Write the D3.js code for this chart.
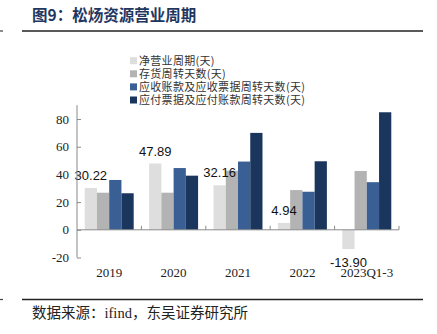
<!DOCTYPE html>
<html>
<head>
<meta charset="utf-8">
<script src="https://cdn.jsdelivr.net/npm/d3@7"></script>
<style>
  body { margin: 0; background: #fff; }
  svg { display: block; }
</style>
</head>
<body>
<div id="chart"></div>
<script>
const categories = ["2019", "2020", "2021", "2022", "2023Q1-3"];
const seriesNames = [
  "净营业周期(天)",
  "存货周转天数(天)",
  "应收账款及应收票据周转天数(天)",
  "应付票据及应付账款周转天数(天)",
];
const netCycle = [30.22, 47.89, 32.16, 4.94, -13.9];
const inventoryDays = [26.8, 26.8, 42.7, 28.7, 42.5];
const receivableDays = [36.0, 44.6, 49.3, 27.5, 34.4];
const payableDays = [26.4, 39.1, 70.0, 49.5, 84.9];
const yTicks = [-20, 0, 20, 40, 60, 80];
const colors = ["#dedede", "#b3b3b3", "#3a5f94", "#1b365d"];

const size = { width: 437, height: 334 };
const cjk = "'Noto Sans CJK SC', sans-serif";
const serif = "'Liberation Serif', 'Noto Sans CJK SC', serif";
const sans = "'Liberation Sans', Arial, sans-serif";

const series = [netCycle, inventoryDays, receivableDays, payableDays];
const rows = categories.map((c, i) => ({
  cat: c,
  values: series.map((s, j) => ({ key: j, value: s[i] })),
}));

const svg = d3
  .select("#chart")
  .append("svg")
  .attr("width", size.width)
  .attr("height", size.height);

// title + rules
svg
  .append("text")
  .attr("x", 32)
  .attr("y", 21)
  .style("font-family", cjk)
  .style("font-weight", "bold")
  .style("font-size", "15.5px")
  .attr("fill", "#1f3760")
  .text("图9：松炀资源营业周期");

[31, 299.5].forEach((yy) => {
  svg
    .append("line")
    .attr("x1", 22)
    .attr("x2", 423)
    .attr("y1", yy)
    .attr("y2", yy)
    .attr("stroke", "#222")
    .attr("stroke-width", 1.6);
  svg
    .append("line")
    .attr("x1", 0)
    .attr("x2", 3)
    .attr("y1", yy)
    .attr("y2", yy)
    .attr("stroke", "#444")
    .attr("stroke-width", 1.2);
});

svg
  .append("text")
  .attr("x", 32)
  .attr("y", 318)
  .style("font-family", serif)
  .style("font-size", "14.5px")
  .attr("fill", "#222")
  .text("数据来源：ifind，东吴证券研究所");

// legend
const legend = svg
  .append("g")
  .selectAll("g")
  .data(seriesNames)
  .join("g")
  .attr("transform", (d, i) => `translate(130, ${60.7 + i * 13.1})`);

legend
  .append("rect")
  .attr("x", 0)
  .attr("y", -3.5)
  .attr("width", 7)
  .attr("height", 7)
  .attr("fill", (d, i) => colors[i]);

legend
  .append("text")
  .attr("x", 9)
  .attr("dy", "0.36em")
  .style("font-family", cjk)
  .style("font-size", "11px")
  .style("letter-spacing", "0.3px")
  .attr("fill", "#333")
  .text((d) => d);

// scales
const x = d3.scaleBand().domain(categories).range([77, 399]).padding(0);
const xs = d3
  .scaleBand()
  .domain(d3.range(series.length))
  .range([0, x.bandwidth()])
  .paddingInner(0)
  .paddingOuter(0.63);
const y = d3.scaleLinear().domain([-20, 90]).range([257.5, 105.2]);

// bars
const group = svg
  .append("g")
  .selectAll("g")
  .data(rows)
  .join("g")
  .attr("transform", (d) => `translate(${x(d.cat)}, 0)`);

group
  .selectAll("rect")
  .data((d) => d.values)
  .join("rect")
  .attr("x", (d) => xs(d.key))
  .attr("width", xs.bandwidth())
  .attr("y", (d) => y(Math.max(0, d.value)))
  .attr("height", (d) => Math.abs(y(d.value) - y(0)))
  .attr("fill", (d) => colors[d.key]);

// value labels on net cycle
group
  .append("text")
  .attr("x", xs(0) + xs.bandwidth() / 2)
  .attr("y", (d) =>
    d.values[0].value >= 0 ? y(d.values[0].value) - 12.5 : y(d.values[0].value) + 13
  )
  .attr("dy", "0.36em")
  .attr("text-anchor", "middle")
  .style("font-family", sans)
  .style("font-size", "13px")
  .attr("fill", "#111")
  .text((d) => d.values[0].value.toFixed(2));

// y axis
const yAxis = svg
  .append("g")
  .attr("transform", "translate(77, 0)")
  .call(
    d3
      .axisRight(y)
      .tickValues(yTicks)
      .tickSize(4)
      .tickFormat("")
  );
yAxis.select(".domain").attr("d", `M0,${y(90)}V${y(-20)}`);
yAxis.selectAll("line, path").attr("stroke", "#8a8a8a");

svg
  .append("g")
  .selectAll("text")
  .data(yTicks)
  .join("text")
  .attr("x", 69)
  .attr("y", (d) => y(d))
  .attr("dy", "0.35em")
  .attr("text-anchor", "end")
  .style("font-family", serif)
  .style("font-size", "13px")
  .attr("fill", "#222")
  .text((d) => d);

// zero line with category ticks
svg
  .append("line")
  .attr("x1", 77)
  .attr("x2", 399)
  .attr("y1", y(0))
  .attr("y2", y(0))
  .attr("stroke", "#8a8a8a");

svg
  .append("g")
  .selectAll("line")
  .data(categories.slice(1).map((c) => x(c)).concat([x.range()[1]]))
  .join("line")
  .attr("x1", (d) => d)
  .attr("x2", (d) => d)
  .attr("y1", y(0))
  .attr("y2", y(0) - 4)
  .attr("stroke", "#8a8a8a");

svg
  .append("g")
  .selectAll("text")
  .data(categories)
  .join("text")
  .attr("x", (d) => x(d) + x.bandwidth() / 2)
  .attr("y", 277)
  .attr("text-anchor", "middle")
  .style("font-family", serif)
  .style("font-size", "13px")
  .attr("fill", "#222")
  .text((d) => d);
</script>
</body>
</html>
